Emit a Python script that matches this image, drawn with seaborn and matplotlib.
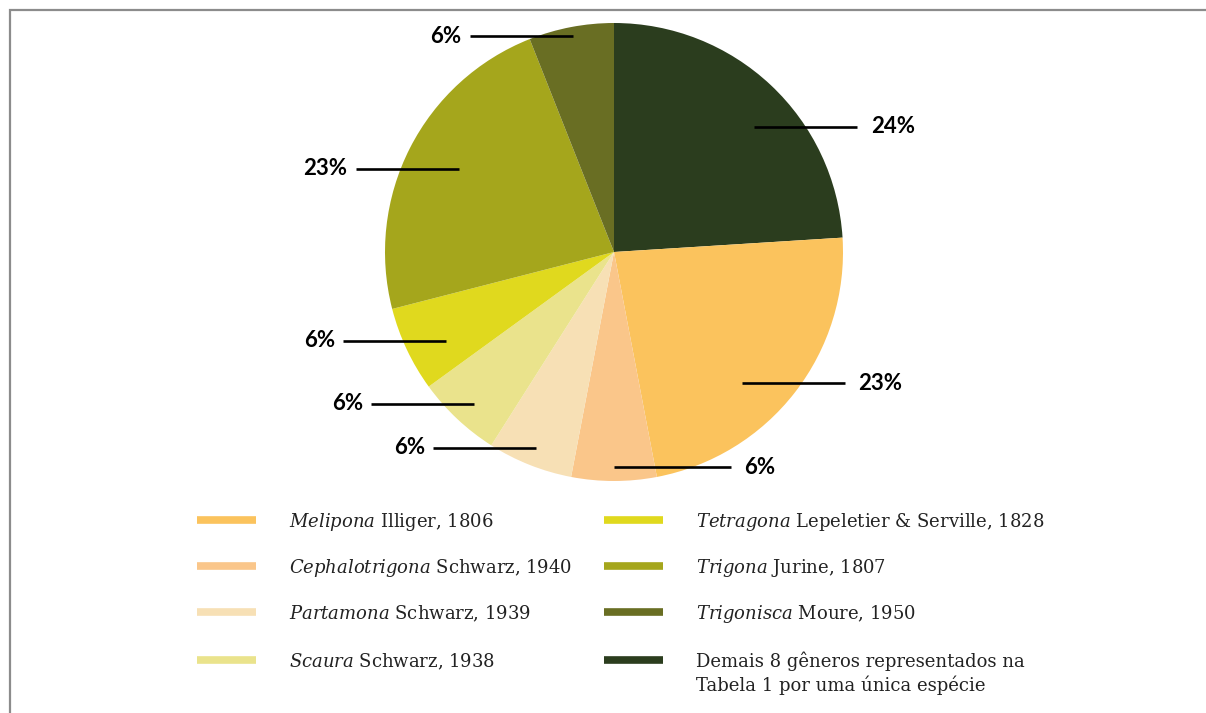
import numpy as np
import matplotlib
matplotlib.use("Agg")
import matplotlib.pyplot as plt
from matplotlib.lines import Line2D
from matplotlib.patches import Rectangle
import seaborn as sns

# Share of species per genus (%)
genera = ["Demais", "Melipona", "Cephalotrigona", "Partamona",
          "Scaura", "Tetragona", "Trigona", "Trigonisca"]
shares = [24, 23, 6, 6, 6, 6, 23, 6]
legend_labels = {
    "Melipona": [r"$\mathit{Melipona}$ Illiger, 1806"],
    "Cephalotrigona": [r"$\mathit{Cephalotrigona}$ Schwarz, 1940"],
    "Partamona": [r"$\mathit{Partamona}$ Schwarz, 1939"],
    "Scaura": [r"$\mathit{Scaura}$ Schwarz, 1938"],
    "Tetragona": [r"$\mathit{Tetragona}$ Lepeletier & Serville, 1828"],
    "Trigona": [r"$\mathit{Trigona}$ Jurine, 1807"],
    "Trigonisca": [r"$\mathit{Trigonisca}$ Moure, 1950"],
    "Demais": ["Demais 8 gêneros representados na",
               "Tabela 1 por uma única espécie"],
}
legend_order = ["Melipona", "Cephalotrigona", "Partamona", "Scaura",
                "Tetragona", "Trigona", "Trigonisca", "Demais"]

colors = {
    "Demais": "#2b3d1e",
    "Melipona": "#fbc35d",
    "Cephalotrigona": "#fac68a",
    "Partamona": "#f7e0b5",
    "Scaura": "#eae38c",
    "Tetragona": "#e0d91e",
    "Trigona": "#a5a61c",
    "Trigonisca": "#696e23",
}

# leader line placement: radial start (fraction of radius) and angular nudge (deg)
leader_start = [0.82, 0.80, 0.94, 0.92, 0.90, 0.83, 0.77, 0.96]
leader_nudge = [-5, -8, 0, 0, 0.6, 2.7, -1.2, 0]
leader_len = [0.45, 0.45, 0.51, 0.45, 0.45, 0.45, 0.45, 0.45]

sns.set_theme(style="white")
plt.rcParams["mathtext.fontset"] = "custom"
plt.rcParams["mathtext.rm"] = "DejaVu Serif"
plt.rcParams["mathtext.it"] = "DejaVu Serif:italic"

W, H = 1206, 713
fig = plt.figure(figsize=(W / 100, H / 100), dpi=100)
fig.patch.set_facecolor("white")

# frame line along top and left edges
fig.add_artist(Rectangle((10 / W, -0.1), 1.2, 1.1 - 10 / H, transform=fig.transFigure,
                         fill=False, edgecolor="#8c8c8c", linewidth=1.6))

cx, cy, r = 614, 252, 229
ax = fig.add_axes([(cx - r) / W, (H - cy - r) / H, 2 * r / W, 2 * r / H])

wedges, _ = ax.pie(shares, colors=[colors[g] for g in genera], startangle=90,
                   counterclock=False, radius=1.0,
                   wedgeprops=dict(linewidth=0))
ax.set_xlim(-1, 1)
ax.set_ylim(-1, 1)
ax.axis("off")

cum = np.cumsum([0] + shares)
for i, w in enumerate(shares):
    mid0 = 90 - 3.6 * (cum[i] + w / 2)
    a = np.deg2rad(mid0 + leader_nudge[i])
    x0 = leader_start[i] * np.cos(a)
    y0 = leader_start[i] * np.sin(a)
    side = 1 if np.cos(np.deg2rad(mid0)) >= -1e-9 else -1
    x1 = x0 + side * leader_len[i]
    ax.plot([x0, x1], [y0, y0], color="black", lw=1.9, clip_on=False,
            solid_capstyle="butt")
    gap = 0.06 if side > 0 else 0.035
    ax.text(x1 + side * gap, y0, f"{w}%", ha="left" if side > 0 else "right",
            va="center", fontsize=16, fontweight="bold", family="Lato",
            color="black")

# legend: two columns of colour bars with labels
col_x = [(197, 289), (604, 696)]
row_y = [520, 566, 612, 660]
for k, g in enumerate(legend_order):
    hx, tx = col_x[k // 4]
    y = row_y[k % 4]
    fig.add_artist(Line2D([hx / W, (hx + 59) / W], [1 - y / H, 1 - y / H],
                          transform=fig.transFigure, color=colors[g], lw=5.5,
                          solid_capstyle="butt"))
    for j, line in enumerate(legend_labels[g]):
        fig.text(tx / W, 1 - (y + 7 + 24 * j) / H, line, ha="left",
                 va="baseline", fontsize=13, family="DejaVu Serif",
                 color="#222222")

fig.savefig("out.png", dpi=100, facecolor="white")
